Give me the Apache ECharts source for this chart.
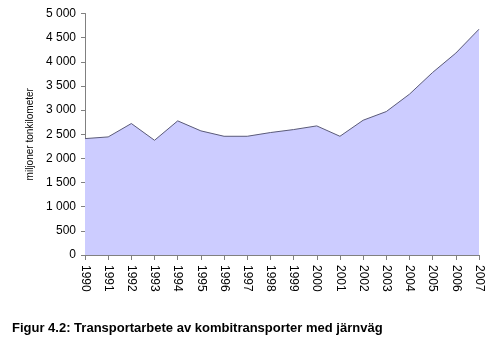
<!DOCTYPE html>
<html><head><meta charset="utf-8">
<script src="https://cdn.jsdelivr.net/npm/echarts@6/dist/echarts.min.js"></script>
<style>html,body{margin:0;padding:0;background:#fff}#c{width:495px;height:338px}</style>
</head><body><div id="c"></div>
<script>
const years = ['1990','1991','1992','1993','1994','1995','1996','1997','1998','1999','2000','2001','2002','2003','2004','2005','2006','2007'];
const values = [2410,2445,2722,2375,2777,2570,2458,2458,2535,2597,2673,2458,2790,2970,3330,3780,4180,4675];
const yTicks = [0,500,1000,1500,2000,2500,3000,3500,4000,4500,5000];
const chart = echarts.init(document.getElementById('c'), null, {renderer:'canvas'});
const font = 'Liberation Sans, Arial, sans-serif';
chart.setOption({
  animation:false,
  title:{text:'Figur 4.2: Transportarbete av kombitransporter med järnväg', left:7, top:317,
    textStyle:{fontFamily:font, fontSize:13, fontWeight:'bold', color:'#000'}},
  grid:{left:85, right:16, top:13.5, bottom:83},
  xAxis:{type:'category', data:years, boundaryGap:false,
    axisLine:{lineStyle:{color:'#808080', width:1}},
    axisTick:{show:true, length:5, lineStyle:{color:'#808080'}, alignWithLabel:true},
    axisLabel:{rotate:-90, fontFamily:font, fontSize:12, color:'#000', margin:10, interval:0}},
  yAxis:{type:'value', min:yTicks[0], max:yTicks[yTicks.length-1], interval:500,
    name:'miljoner tonkilometer', nameLocation:'middle', nameGap:41, nameRotate:90,
    nameTextStyle:{fontFamily:font, fontSize:10, color:'#000'},
    axisLine:{show:true, lineStyle:{color:'#808080', width:1}},
    axisTick:{show:true, length:4, lineStyle:{color:'#808080'}},
    splitLine:{show:false},
    axisLabel:{fontFamily:font, fontSize:12, color:'#000', margin:9,
      formatter:v=>String(v).replace(/\B(?=(\d{3})+(?!\d))/g,' ')}},
  series:[{type:'line', data:values, symbol:'none',
    lineStyle:{color:'#5a5a78', width:1},
    areaStyle:{color:'#ccccff', opacity:1}}]
});
</script></body></html>
